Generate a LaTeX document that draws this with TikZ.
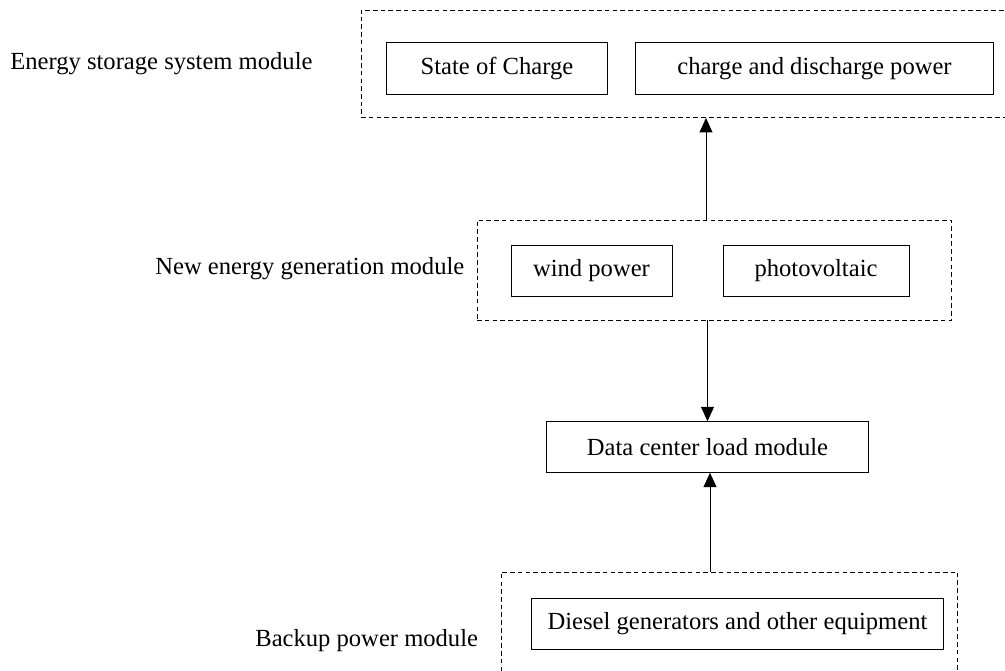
\documentclass[tikz,border=0pt]{standalone}
\usepackage{fontspec}
\setmainfont{Liberation Serif}
\usetikzlibrary{arrows.meta}
\tikzset{
  box/.style={draw, line width=0.55pt, inner sep=0pt, outer sep=0pt, minimum height=1.03cm},
  group/.style={draw, line width=0.55pt, dash pattern=on 2.6pt off 1.8pt, inner sep=0pt, outer sep=0pt},
  lbl/.style={anchor=base west, inner sep=0pt},
  arr/.style={line width=0.55pt, -{Triangle[length=2.9mm, width=2.6mm]}}
}
\begin{document}
\begin{tikzpicture}[x=0.02cm, y=-0.02cm, font=\fontsize{14}{16}\selectfont]
        \clip (0,0) rectangle (1005,671);
        % Energy storage
        \node[group, minimum width=13.08cm, minimum height=2.16cm] (ess) at (688,64) {};
        \node[box, minimum width=4.44cm] (soc) at (497,68.5) {State of Charge};
        \node[box, minimum width=7.18cm] (cdp) at (814.5,68.5) {charge and discharge power};
        \node[lbl] (esslbl) at (10,70) {Energy storage system module};
        % New energy
        \node[group, minimum width=9.5cm, minimum height=2cm] (neg) at (714.5,270) {};
        \node[box, minimum width=3.22cm] (wind) at (591.5,271) {wind power};
        \node[box, minimum width=3.72cm] (pv) at (816,271) {photovoltaic};
        \node[lbl] (neglbl) at (155,275) {New energy generation module};
        % Load
        \node[box, minimum width=6.46cm] (dcl) at (707.5,447) {Data center load module};
        % Backup
        \node[group, minimum width=9.14cm, minimum height=2.56cm] (bak) at (729.5,636) {};
        \node[box, minimum width=8.26cm] (dsl) at (737.5,624) {Diesel generators and other equipment};
        \node[lbl] (baklbl) at (255,647) {Backup power module};
        \draw[arr] (neg.north -| 706,0) -- (ess.south -| 706,0);
        \draw[arr] (neg.south -| dcl.north) -- (dcl.north);
        \draw[arr] (bak.north -| 710,0) -- (dcl.south -| 710,0);
    \end{tikzpicture}
\end{document}
